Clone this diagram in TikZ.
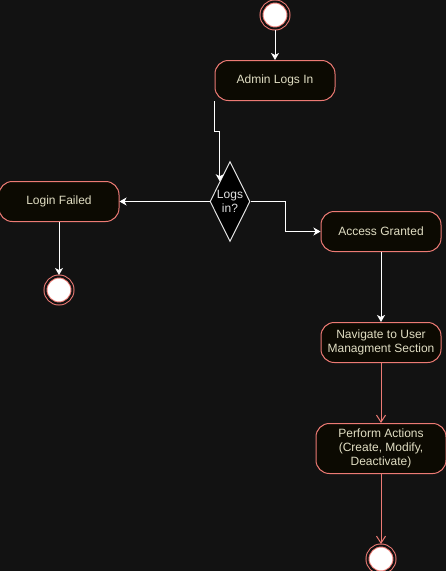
\documentclass[tikz,border=0pt]{standalone}
\usepackage{fontspec}
\setmainfont{Liberation Sans}
\usepackage{xcolor}
\usepackage{tikz}
\usetikzlibrary{arrows.meta,positioning,shapes.geometric,calc}
\definecolor{bgdark}{RGB}{18,18,18}
\definecolor{statefill}{RGB}{12,10,2}
\definecolor{edgered}{RGB}{236,122,116}
\definecolor{statetext}{RGB}{225,222,195}
\definecolor{diagray}{RGB}{225,225,225}

\begin{document}
\begin{tikzpicture}[
        font=\fontsize{9pt}{10.5pt}\selectfont,
        >=Stealth,
        node distance=52.5pt,
        state/.style={rectangle,draw=edgered,fill=statefill,text=statetext,rounded corners=10pt,minimum width=90pt,minimum height=30pt,align=center,line width=0.75pt},
        decision/.style={diamond,draw=diagray,fill=black,text=diagray,aspect=0.5,inner sep=0pt,minimum width=30pt,minimum height=60pt,align=center,line width=0.75pt},
        terminal/.style={circle,draw=edgered,fill=white,double=bgdark,double distance=1.5pt,line width=0.75pt,inner sep=0pt,outer sep=1.125pt,minimum size=20.25pt},
        arrow/.style={-{Stealth[length=5.25pt,width=6pt,inset=1.5pt]},draw=white,line width=0.75pt},
        openarrow/.style={-{Straight Barb[length=5.25pt,width=6.75pt]},draw=edgered,line width=0.75pt}
    ]
        \useasboundingbox (0,0) rectangle (334.5pt,-428.25pt);
        \fill[bgdark] (0,0) rectangle (334.5pt,-428.25pt);

        \node[terminal] (start) at (206.25pt,-11.25pt) {};
        \node[state,below=22.5pt of start] (admin) {Admin Logs In};
        \node[decision,below=45pt of admin,xshift=-33.75pt] (isin) {Logs\\in?};
        \node[state,left=67.5pt of isin] (failed) {Login Failed};
        \node[terminal,below=39.75pt of failed] (endfail) {};
        \node[state,right=52.5pt of isin,yshift=-22.5pt] (granted) {Access Granted};
        \node[state,below=of granted] (navigate) {Navigate to User\\Managment Section};
        \node[state,below=45pt of navigate,minimum width=97.5pt,minimum height=37.5pt] (perform) {Perform Actions\\(Create, Modify,\\Deactivate)};
        \node[terminal,below=of perform] (endok) {};

        \draw[arrow] (start) -- (admin);
        \draw[arrow] (admin.south west) -- ++(0,-22.5pt) -| ($(isin.north)!0.5!(isin.west)$);
        \draw[arrow] (isin.west) -- (failed.east);
        \draw[arrow] (failed) -- (endfail);
        \draw[arrow] (isin.east) -- ++(26.25pt,0) |- (granted.west);
        \draw[arrow] (granted) -- (navigate);
        \draw[openarrow] (navigate) -- (perform);
        \draw[openarrow] (perform) -- (endok);
    \end{tikzpicture}
\end{document}
